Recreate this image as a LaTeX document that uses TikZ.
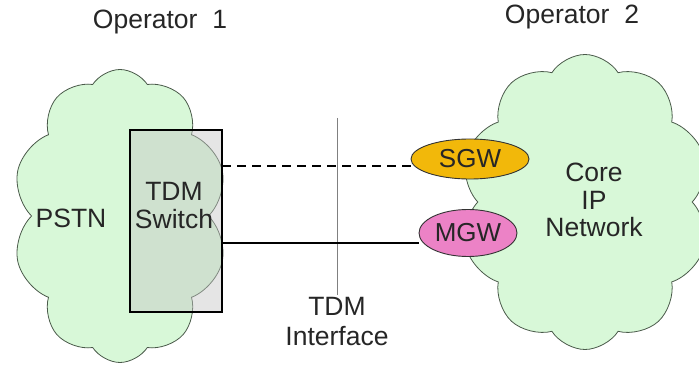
\documentclass[tikz,border=0pt]{standalone}
\usepackage{fontspec}
\setmainfont{Liberation Sans}
\usetikzlibrary{shapes.symbols,shapes.geometric}
\definecolor{cloudgreen}{HTML}{D8F8D8}
\definecolor{cloudline}{HTML}{4A5A4A}
\definecolor{sgwfill}{HTML}{F2B80A}
\definecolor{mgwfill}{HTML}{EC82C6}
\tikzset{
  netcloud/.style={cloud, cloud puffs=10, cloud puff arc=115, aspect=0.75, draw=cloudline, line width=0.8pt, fill=cloudgreen, inner sep=0pt},
  gw/.style={ellipse, draw=black!80, line width=0.9pt, inner sep=0pt, font=\fontsize{26}{28}\selectfont, text=black!85},
  lbl/.style={font=\fontsize{26.5}{28}\selectfont, align=center, text=black!85},
  switchbox/.style={draw=black, line width=1.6pt, fill=gray!45, fill opacity=0.45},
}
\begin{document}
\begin{tikzpicture}[x=1pt,y=-1pt]
\useasboundingbox (0,0) rectangle (699,366);
\fill[white] (0,0) rectangle (699,366);
% clouds
\node[netcloud, minimum width=215pt, minimum height=293pt] (pstn) at (120,216) {};
\node[netcloud, minimum width=250pt, minimum height=295pt] (core) at (585,202) {};
% switch
\node[switchbox, minimum width=92pt, minimum height=182pt, inner sep=0pt] (sw) at (176,221) {};
\node[lbl] (swl) at (174,206) {TDM\\Switch};
\node[lbl] (pstnl) at (71,218) {PSTN};
\node[lbl, font=\fontsize{26.5}{27.5}\selectfont] (corel) at (594,200) {Core\\IP\\Network};
% gateways
\node[gw, fill=sgwfill, minimum width=118pt, minimum height=40pt] (sgw) at (470,159) {SGW};
\node[gw, fill=mgwfill, minimum width=98pt, minimum height=47pt] (mgw) at (468,233) {MGW};
% interface line
\coordinate (vt) at (337,118);
\coordinate (vb) at (337,295);
\draw[gray, line width=1pt] (vt) -- (vb);
\node[lbl, font=\fontsize{26.5}{30}\selectfont] (tdmi) at (337,322) {TDM\\Interface};
% links
\coordinate (d1) at (222,166);
\coordinate (s1) at (222,243);
\draw[dashed, line width=1.6pt, dash pattern=on 9pt off 6pt] (d1) -- (sgw.west |- d1);
\draw[line width=1.6pt] (s1) -- (mgw.west |- s1);
% titles
\node[lbl] (op1) at (160,22) {Operator\ \ 1};
\node[lbl] (op2) at (572,17) {Operator\ \ 2};
\end{tikzpicture}
\end{document}
